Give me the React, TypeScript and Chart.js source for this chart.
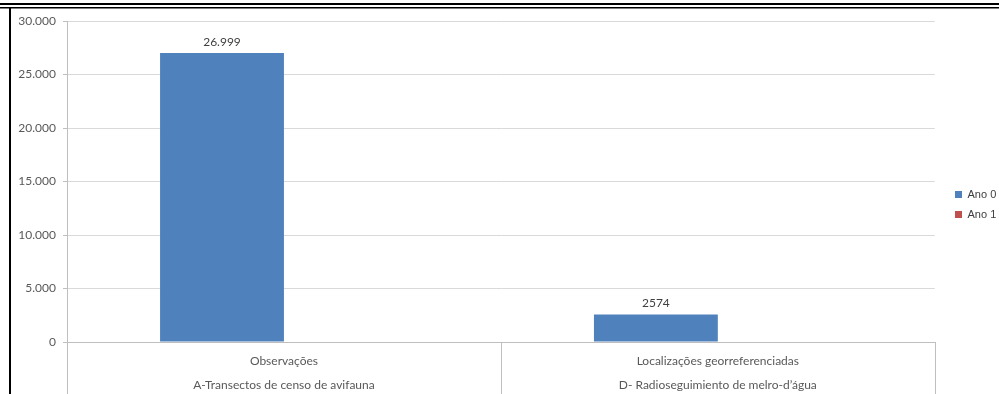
import React, { useEffect, useRef } from "react";
import { Chart, registerables } from "chart.js";

Chart.register(...registerables);

// Category labels (two lines each: metric, survey)
const categories: string[][] = [
  ["Observações", "A-Transectos de censo de avifauna"],
  ["Localizações georreferenciadas", "D- Radioseguimiento de melro-d’água"],
];
const seriesNames = ["Ano 0", "Ano 1"];
const ano0Values = [26999, 2574];
const ano1Values = [0, 0];
const yTickValues = [0, 5000, 10000, 15000, 20000, 25000, 30000];

const FONT = "Lato, 'Liberation Sans', sans-serif";
const FONT_SIZE = 12;
const LEGEND_FONT = "'Liberation Sans', Arial, sans-serif";
const TEXT_COLOR = "#595959";
const BLUE = "#4F81BD";
const RED = "#C0504D";

const groupThousands = (v: number) =>
  String(Math.round(v)).replace(/\B(?=(\d{3})+(?!\d))/g, ".");

// Value labels: grouping only for 5+ digit numbers
const formatValue = (v: number) => (Math.abs(v) >= 10000 ? groupThousands(v) : String(v));

const valueLabelPlugin = {
  id: "valueLabels",
  afterDatasetsDraw(chart: any) {
    const { ctx } = chart;
    const meta = chart.getDatasetMeta(0);
    ctx.save();
    ctx.font = `${FONT_SIZE}px ${FONT}`;
    ctx.fillStyle = "#404040";
    ctx.textAlign = "center";
    ctx.textBaseline = "middle";
    meta.data.forEach((bar: any, i: number) => {
      const v = chart.data.datasets[0].data[i];
      if (v == null) return;
      ctx.fillText(formatValue(v), bar.x, bar.y - 11);
    });
    ctx.restore();
  },
};

// Category separators below the plot, running to the bottom edge
const categoryDividerPlugin = {
  id: "categoryDividers",
  afterDraw(chart: any) {
    const { ctx, chartArea } = chart;
    const xs = chart.scales.x;
    const n = chart.data.labels.length;
    const step = (chartArea.right - chartArea.left) / n;
    ctx.save();
    ctx.strokeStyle = "#BFBFBF";
    ctx.lineWidth = 1;
    for (let i = 0; i <= n; i++) {
      const x = Math.round(xs.left + i * step) + 0.5;
      ctx.beginPath();
      ctx.moveTo(x, chartArea.bottom);
      ctx.lineTo(x, chart.height);
      ctx.stroke();
    }
    ctx.restore();
  },
};

// Page frame: double rule at the top, single rule at the left
const frameRulePlugin = {
  id: "frameRules",
  afterDraw(chart: any) {
    const { ctx } = chart;
    ctx.save();
    ctx.fillStyle = "#000000";
    ctx.fillRect(0, 3, chart.width, 2);
    ctx.fillRect(0, 7, chart.width, 1.5);
    ctx.fillRect(9, 7, 2, chart.height - 7);
    ctx.restore();
  },
};

const legendPlacePlugin = {
  id: "legendPlace",
  afterLayout(chart: any) {
    const lg = chart.legend;
    if (!lg) return;
    const dx = 946 - lg.left;
    const dy = -3;
    lg.left += dx;
    lg.right += dx;
    lg.top += dy;
    lg.bottom += dy;
  },
};

export default function App() {
  const canvasRef = useRef<HTMLCanvasElement | null>(null);

  useEffect(() => {
    if (!canvasRef.current) return;
    const chart = new Chart(canvasRef.current, {
      type: "bar",
      data: {
        labels: categories,
        datasets: [
          {
            label: seriesNames[0],
            data: ano0Values,
            backgroundColor: BLUE,
            borderWidth: 0,
            categoryPercentage: 0.571,
            barPercentage: 1,
          },
          {
            label: seriesNames[1],
            data: ano1Values,
            backgroundColor: RED,
            borderWidth: 0,
            categoryPercentage: 0.571,
            barPercentage: 1,
          },
        ],
      },
      options: {
        animation: false,
        responsive: false,
        maintainAspectRatio: false,
        layout: { padding: { top: 21, left: 0, right: 4, bottom: 0 } },
        plugins: {
          tooltip: { enabled: false },
          legend: {
            position: "right",
            labels: {
              boxWidth: 7,
              boxHeight: 7,
              padding: 9,
              color: "#404040",
              font: { family: LEGEND_FONT, size: 11 },
            },
          },
        },
        scales: {
          x: {
            grid: { display: false, offset: true, drawTicks: false },
            border: { display: true, color: "#BFBFBF" },
            ticks: {
              color: TEXT_COLOR,
              font: { family: FONT, size: FONT_SIZE, lineHeight: 24 / FONT_SIZE },
              padding: 7,
              maxRotation: 0,
              autoSkip: false,
            },
            afterFit: (s: any) => {
              s.height = 52;
            },
          },
          y: {
            min: 0,
            max: 30000,
            afterBuildTicks: (s: any) => {
              s.ticks = yTickValues.map((v) => ({ value: v }));
            },
            ticks: {
              color: TEXT_COLOR,
              font: { family: FONT, size: FONT_SIZE },
              padding: 7,
              callback: (v: any) => groupThousands(Number(v)),
            },
            grid: { color: "#D9D9D9", tickLength: 4, tickColor: "#BFBFBF" },
            border: { display: true, color: "#BFBFBF" },
            afterFit: (s: any) => {
              s.width = 67;
            },
          },
        },
      },
      plugins: [valueLabelPlugin, categoryDividerPlugin, frameRulePlugin, legendPlacePlugin],
    });
    return () => chart.destroy();
  }, []);

  return (
    <div style={{ position: "fixed", left: 0, top: 0, width: 999, height: 394, background: "#ffffff" }}>
      <canvas ref={canvasRef} width={999} height={394} style={{ display: "block" }} />
    </div>
  );
}
